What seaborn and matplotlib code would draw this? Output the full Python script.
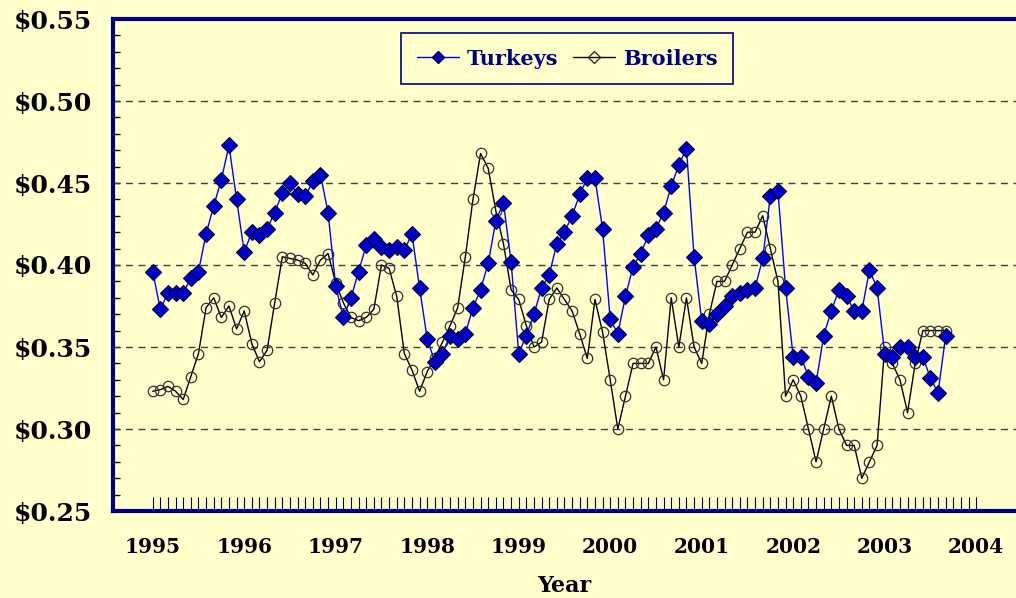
import numpy as np
import pandas as pd
import matplotlib
matplotlib.use("Agg")
import matplotlib.pyplot as plt
from matplotlib.lines import Line2D
from matplotlib.ticker import FixedLocator, MultipleLocator
import seaborn as sns

# monthly prices, Jan 1995 - Sep 2003 ($/lb)
turkeys = [
    0.396, 0.373, 0.383, 0.383, 0.383, 0.392, 0.396, 0.419, 0.436, 0.452, 0.473, 0.440,
    0.408, 0.420, 0.418, 0.422, 0.432, 0.444, 0.450, 0.443, 0.442, 0.451, 0.455, 0.432,
    0.387, 0.368, 0.380, 0.396, 0.412, 0.416, 0.411, 0.409, 0.411, 0.409, 0.419, 0.386,
    0.355, 0.341, 0.346, 0.357, 0.355, 0.358, 0.374, 0.385, 0.401, 0.427, 0.438, 0.402,
    0.346, 0.357, 0.370, 0.386, 0.394, 0.413, 0.420, 0.430, 0.443, 0.453, 0.453, 0.422,
    0.367, 0.358, 0.381, 0.399, 0.407, 0.418, 0.422, 0.432, 0.448, 0.461, 0.471, 0.405,
    0.366, 0.364, 0.370, 0.375, 0.381, 0.383, 0.385, 0.386, 0.404, 0.442, 0.445, 0.386,
    0.344, 0.344, 0.332, 0.328, 0.357, 0.372, 0.385, 0.381, 0.372, 0.372, 0.397, 0.386,
    0.346, 0.344, 0.350, 0.350, 0.344, 0.344, 0.331, 0.322, 0.357,
]
broilers = [
    0.323, 0.324, 0.326, 0.323, 0.318, 0.332, 0.346, 0.374, 0.380, 0.368, 0.375, 0.361,
    0.372, 0.352, 0.341, 0.348, 0.377, 0.405, 0.404, 0.403, 0.401, 0.394, 0.403, 0.407,
    0.389, 0.377, 0.368, 0.366, 0.368, 0.373, 0.400, 0.398, 0.381, 0.346, 0.336, 0.323,
    0.335, 0.343, 0.353, 0.363, 0.374, 0.405, 0.440, 0.468, 0.459, 0.433, 0.413, 0.385,
    0.379, 0.363, 0.350, 0.353, 0.379, 0.386, 0.379, 0.372, 0.358, 0.343, 0.379, 0.359,
    0.33, 0.30, 0.32, 0.34, 0.34, 0.34, 0.35, 0.33, 0.38, 0.35, 0.38, 0.35,
    0.34, 0.37, 0.39, 0.39, 0.40, 0.41, 0.42, 0.42, 0.43, 0.41, 0.39, 0.32,
    0.33, 0.32, 0.30, 0.28, 0.30, 0.32, 0.30, 0.29, 0.29, 0.27, 0.28, 0.29,
    0.35, 0.34, 0.33, 0.31, 0.34, 0.36, 0.36, 0.36, 0.36,
]
start_year = 1995
year_ticks = [1995, 1996, 1997, 1998, 1999, 2000, 2001, 2002, 2003, 2004]
y_ticks = [0.25, 0.30, 0.35, 0.40, 0.45, 0.50, 0.55]

df = pd.DataFrame({
    "t": start_year + np.arange(len(turkeys)) / 12,
    "Turkeys": turkeys,
    "Broilers": broilers,
})

bg = "#FFFFCC"
navy = "#000080"

sns.set_style("white")
plt.rcParams["font.family"] = ["DejaVu Serif"]
plt.rcParams["font.weight"] = "bold"

fig = plt.figure(figsize=(10.16, 5.98), dpi=100, facecolor=bg)
ax = fig.add_axes([113 / 1016, 87 / 598, 903 / 1016, 492 / 598])
ax.set_facecolor(bg)

for y in y_ticks[1:-1]:
    ax.axhline(y, color="#404040", lw=1, ls=(0, (5, 4)), zorder=1)

sns.lineplot(data=df, x="t", y="Broilers", ax=ax, color="black", lw=1,
             marker="o", markersize=7.5, markerfacecolor="none",
             markeredgecolor="#333333", markeredgewidth=0.9, zorder=3)
sns.lineplot(data=df, x="t", y="Turkeys", ax=ax, color="#0000FF", lw=1,
             marker="D", markersize=8, markerfacecolor="#0000CC",
             markeredgecolor="#000033", markeredgewidth=0.8, zorder=4)

ax.set_xlim(start_year - 0.434, start_year + 9.435)
ax.set_ylim(0.25, 0.55)

ax.set_yticks(y_ticks)
ax.set_yticklabels([f"${v:.2f}" for v in y_ticks], fontsize=18, fontweight="bold")
ax.yaxis.set_minor_locator(MultipleLocator(0.01))
ax.tick_params(axis="y", which="both", direction="in", length=5, width=1,
               color="black", labelcolor="black", pad=15, left=True)

ax.xaxis.set_major_locator(FixedLocator(year_ticks))
ax.set_xticklabels([str(y) for y in year_ticks], fontsize=14.5, fontweight="bold")
ax.xaxis.set_minor_locator(FixedLocator(start_year + np.arange(109) / 12))
ax.tick_params(axis="x", which="both", direction="in", length=10, width=0.8,
               color="black", labelcolor="black", pad=19, bottom=True)

ax.set_xlabel("Year", fontsize=16, fontweight="bold", labelpad=13, color="black")
ax.set_ylabel("")

for side in ["left", "top", "bottom"]:
    ax.spines[side].set_color(navy)
    ax.spines[side].set_linewidth(3)
ax.spines["right"].set_visible(False)

handles = [
    Line2D([], [], color="#0000FF", lw=1, marker="D", markersize=6,
           markerfacecolor="#0000CC", markeredgecolor="#000033"),
    Line2D([], [], color="black", lw=1, marker="D", markersize=6,
           markerfacecolor="none", markeredgecolor="#333333"),
]
leg = ax.legend(handles, ["Turkeys", "Broilers"], loc="upper center",
                bbox_to_anchor=(0.503, 0.9715), ncol=2, frameon=True,
                fancybox=False, facecolor=bg, edgecolor=navy, framealpha=1,
                borderaxespad=0, borderpad=0.75, handlelength=2.0,
                handletextpad=0.4, columnspacing=0.7,
                prop={"size": 15, "weight": "bold"})
leg.get_frame().set_linewidth(1.2)
for txt in leg.get_texts():
    txt.set_color(navy)

fig.savefig("out.png", dpi=100, facecolor=bg)
